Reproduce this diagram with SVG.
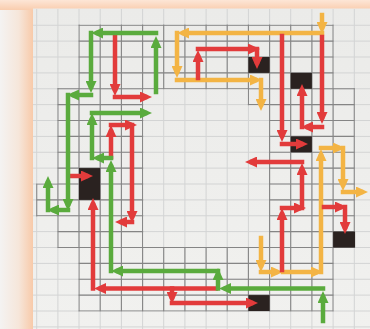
<svg xmlns="http://www.w3.org/2000/svg" xmlns:xlink="http://www.w3.org/1999/xlink" width="370" height="329" viewBox="0 0 370 329">
<style>
.light{stroke:#d3d4d4;stroke-width:1;fill:none}
.dark{stroke:#858585;stroke-width:1.1;fill:none}
.conn path{fill:none;stroke-width:4.5;stroke-linecap:square}
.g path{stroke:#5aab3d;marker-end:url(#ag)}
.r path{stroke:#e23b3b;marker-end:url(#ar)}
.o path{stroke:#f3b444;marker-end:url(#ao)}
.blk{fill:#2a2220}
</style>
<defs>
<linearGradient id="glowL" x1="0" y1="0" x2="1" y2="0">
<stop offset="0" stop-color="#f4f3f2"/>
<stop offset="0.55" stop-color="#f6e6da"/>
<stop offset="1" stop-color="#f8c8a6"/>
</linearGradient>
<linearGradient id="glowT" x1="0" y1="0" x2="0" y2="1">
<stop offset="0" stop-color="#fde6d6"/>
<stop offset="1" stop-color="#f9cdae"/>
</linearGradient>
<linearGradient id="paper" x1="0" y1="0" x2="0" y2="1">
<stop offset="0" stop-color="#ebebe9"/>
<stop offset="1" stop-color="#f1f1ef"/>
</linearGradient>
<marker id="ag" markerUnits="userSpaceOnUse" viewBox="0 0 12 11" markerWidth="12" markerHeight="11" refX="5" refY="5.5" orient="auto"><path d="M0,0 L12,5.5 L0,11 z" fill="#5aab3d"/></marker>
<marker id="ar" markerUnits="userSpaceOnUse" viewBox="0 0 12 11" markerWidth="12" markerHeight="11" refX="5" refY="5.5" orient="auto"><path d="M0,0 L12,5.5 L0,11 z" fill="#e23b3b"/></marker>
<marker id="ao" markerUnits="userSpaceOnUse" viewBox="0 0 12 11" markerWidth="12" markerHeight="11" refX="5" refY="5.5" orient="auto"><path d="M0,0 L12,5.5 L0,11 z" fill="#f3b444"/></marker>
<clipPath id="ring">
<path clip-rule="evenodd" d="M78.4 24.6 H333.7 V88.1 H354.9 V248.1 H333.7 V311.6 H78.4 V248.1 H57.3 V216.4 H36.1 V183.4 H57.3 V88.1 H78.4 Z M143.2 89.35 H247.8 V105.2 H269 V246.9 H143.2 Z"/>
</clipPath>
<path id="gridlines" d="M36.7 9 V329 M57.9 9 V329 M79 9 V329 M100.2 9 V329 M121.4 9 V329 M142.6 9 V329 M163.7 9 V329 M184.9 9 V329 M206.1 9 V329 M227.2 9 V329 M248.4 9 V329 M269.6 9 V329 M290.7 9 V329 M311.9 9 V329 M333.1 9 V329 M354.3 9 V329 M33 25.25 H370 M33 41.1 H370 M33 57 H370 M33 72.9 H370 M33 88.75 H370 M33 104.6 H370 M33 120.5 H370 M33 136.4 H370 M33 152.25 H370 M33 168.1 H370 M33 184 H370 M33 199.9 H370 M33 215.75 H370 M33 231.6 H370 M33 247.5 H370 M33 263.4 H370 M33 279.25 H370 M33 295.1 H370 M33 311 H370 M33 326.9 H370"/>
</defs>

<g id="background">
<rect x="0" y="0" width="370" height="329" fill="#f4f3f2"/>
<rect x="0" y="0" width="34" height="329" fill="url(#glowL)"/>
<rect x="0" y="0" width="370" height="10" fill="url(#glowT)"/>
<rect x="33" y="8.5" width="337" height="320.5" fill="url(#paper)"/>
<use xlink:href="#gridlines" href="#gridlines" class="light"/>
<use xlink:href="#gridlines" href="#gridlines" class="dark" clip-path="url(#ring)"/>
</g>

<g id="squares">
<g id="sq1"><rect class="blk" x="248.4" y="57" width="21.2" height="15.9"/></g>
<g id="sq2"><rect class="blk" x="290.7" y="72.9" width="21.2" height="15.9"/></g>
<g id="sq3"><rect class="blk" x="290.7" y="136.4" width="21.2" height="15.9"/></g>
<g id="sq4"><rect class="blk" x="79" y="168.1" width="21.2" height="31.8"/></g>
<g id="sq5"><rect class="blk" x="333.1" y="231.6" width="22" height="15.9"/></g>
<g id="sq6"><rect class="blk" x="248.4" y="295.1" width="21.2" height="15.9"/></g>
</g>

<g id="connectors" class="conn">
<g id="orange" class="o">
<path d="M322 15 V27"/>
<path d="M322 33 H184"/>
<path d="M177 33 V71"/>
<path d="M177 80 H255"/>
<path d="M261 80 V104"/>
<path d="M261 238 V265"/>
<path d="M261 272 H276"/>
<path d="M283 272 H316"/>
<path d="M321 272 V156"/>
<path d="M321 148 H338"/>
<path d="M343 148 V184"/>
<path d="M343 192 H361"/>
</g>
<g id="red" class="r">
<path d="M115 35 V89"/>
<path d="M115 97 H145"/>
<path d="M111 157 V132"/>
<path d="M111 125 H130"/>
<path d="M132 125 V216"/>
<path d="M132 222 H122"/>
<path d="M71 176 H86"/>
<path d="M216 288.5 H101"/>
<path d="M93 288.5 V205"/>
<path d="M172 288.5 V297"/>
<path d="M172 303 H251"/>
<path d="M198 78 V57"/>
<path d="M198 49 H253"/>
<path d="M257 49 V62"/>
<path d="M282 36 V135"/>
<path d="M282 144 H301"/>
<path d="M322 37 V117"/>
<path d="M322 127 H308"/>
<path d="M302 127 V91"/>
<path d="M282 270 V215"/>
<path d="M282 208 H299"/>
<path d="M302 208 V170"/>
<path d="M302 162 H252"/>
<path d="M324 207 H340"/>
<path d="M345 207 V227"/>
</g>
<g id="green" class="g">
<path d="M156 92 V43"/>
<path d="M156 33 H98"/>
<path d="M91 33 V86"/>
<path d="M91 95 H74"/>
<path d="M68 95 V204"/>
<path d="M68 210 H54"/>
<path d="M48 210 V183"/>
<path d="M323 321 V298"/>
<path d="M323 288.5 H226"/>
<path d="M218 288.5 V275"/>
<path d="M218 271 H118"/>
<path d="M111 271 V167"/>
<path d="M111 158 H99"/>
<path d="M92 158 V120"/>
<path d="M92 113 H145"/>
</g>
</g>
</svg>
